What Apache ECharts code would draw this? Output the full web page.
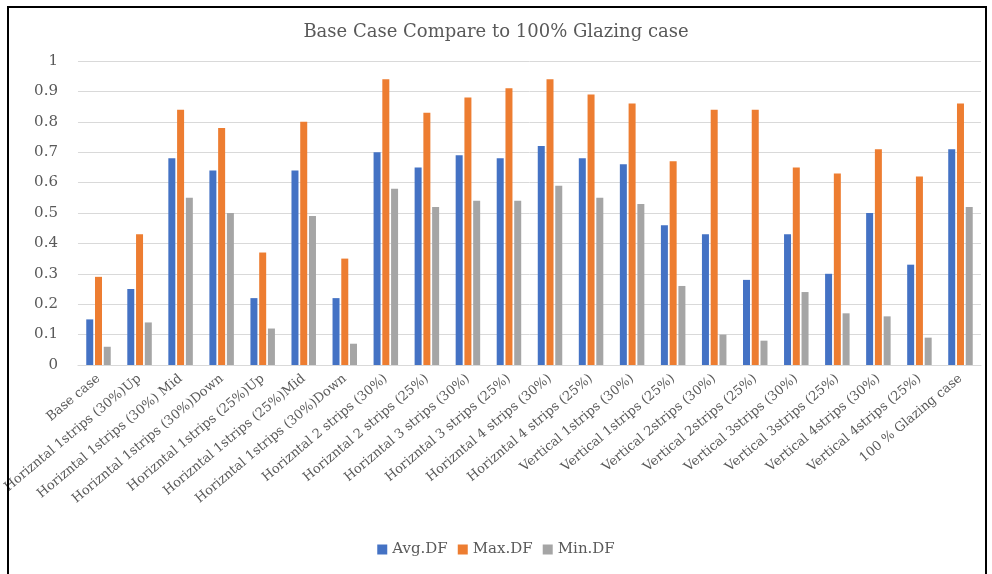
<!DOCTYPE html>
<html>
<head>
<meta charset="utf-8">
<script src="https://cdn.jsdelivr.net/npm/echarts@6/dist/echarts.min.js"></script>
<style>
  html, body { margin: 0; padding: 0; background: #fff; }
  #chart { width: 992px; height: 574px; }
</style>
</head>
<body>
<div id="chart"></div>
<script>
// Glazing layouts compared
const categories = [
  'Base case',
  'Horizntal 1strips (30%)Up',
  'Horizntal 1strips (30%) Mid',
  'Horizntal 1strips (30%)Down',
  'Horizntal 1strips (25%)Up',
  'Horizntal 1strips (25%)Mid',
  'Horizntal 1strips (30%)Down',
  'Horizntal 2 strips (30%)',
  'Horizntal 2 strips (25%)',
  'Horizntal 3 strips (30%)',
  'Horizntal 3 strips (25%)',
  'Horizntal 4 strips (30%)',
  'Horizntal 4 strips (25%)',
  'Vertical 1strips (30%)',
  'Vertical 1strips (25%)',
  'Vertical 2strips (30%)',
  'Vertical 2strips (25%)',
  'Vertical 3strips (30%)',
  'Vertical 3strips (25%)',
  'Vertical 4strips (30%)',
  'Vertical 4strips (25%)',
  '100 % Glazing case'
];

// Daylight factor per layout
const avgDF = [0.15, 0.25, 0.68, 0.64, 0.22, 0.64, 0.22, 0.70, 0.65, 0.69, 0.68, 0.72, 0.68, 0.66, 0.46, 0.43, 0.28, 0.43, 0.30, 0.50, 0.33, 0.71];
const maxDF = [0.29, 0.43, 0.84, 0.78, 0.37, 0.80, 0.35, 0.94, 0.83, 0.88, 0.91, 0.94, 0.89, 0.86, 0.67, 0.84, 0.84, 0.65, 0.63, 0.71, 0.62, 0.86];
const minDF = [0.06, 0.14, 0.55, 0.50, 0.12, 0.49, 0.07, 0.58, 0.52, 0.54, 0.54, 0.59, 0.55, 0.53, 0.26, 0.10, 0.08, 0.24, 0.17, 0.16, 0.09, 0.52];

const seriesNames = ['Avg.DF', 'Max.DF', 'Min.DF'];
const seriesColors = ['#4472C4', '#ED7D31', '#A5A5A5'];

const yTicks = { min: 0, max: 1, step: 0.1 };

const FONT = 'DejaVu Serif';
const TEXT = '#595959';

const chart = echarts.init(document.getElementById('chart'), null, { renderer: 'canvas' });

const values = [avgDF, maxDF, minDF];

chart.setOption({
  backgroundColor: '#ffffff',
  animation: false,
  title: {
    text: 'Base Case Compare to 100% Glazing case',
    left: 'center',
    top: 18,
    textStyle: { fontFamily: FONT, fontSize: 18, fontWeight: 'normal', color: TEXT }
  },
  legend: {
    data: seriesNames,
    bottom: 12,
    left: 'center',
    itemWidth: 10,
    itemHeight: 10,
    itemGap: 10,
    icon: 'rect',
    textStyle: { fontFamily: FONT, fontSize: 15, color: TEXT }
  },
  grid: { left: 67, right: 11, top: 61, bottom: 209, containLabel: false },
  xAxis: {
    type: 'category',
    data: categories,
    axisLine: { lineStyle: { color: '#d9d9d9', width: 1 } },
    axisTick: { show: false },
    axisLabel: {
      interval: 0,
      rotate: 40,
      margin: 12,
      fontFamily: FONT,
      fontSize: 13,
      color: TEXT
    }
  },
  yAxis: {
    type: 'value',
    min: yTicks.min,
    max: yTicks.max,
    interval: yTicks.step,
    axisLine: { show: false },
    axisTick: { show: false },
    splitLine: { lineStyle: { color: '#d9d9d9', width: 1 } },
    axisLabel: {
      margin: 20,
      fontFamily: FONT,
      fontSize: 15,
      color: TEXT,
      formatter: v => String(Math.round(v * 10) / 10)
    }
  },
  series: seriesNames.map((name, i) => ({
    name,
    type: 'bar',
    data: values[i],
    barWidth: 7,
    barGap: '25%',
    itemStyle: { color: seriesColors[i] }
  })),
  graphic: [{
    type: 'rect',
    shape: { x: 8, y: 7, width: 978, height: 580 },
    style: { fill: 'none', stroke: '#000', lineWidth: 2 },
    silent: true,
    z: 100
  }]
});
</script>
</body>
</html>
